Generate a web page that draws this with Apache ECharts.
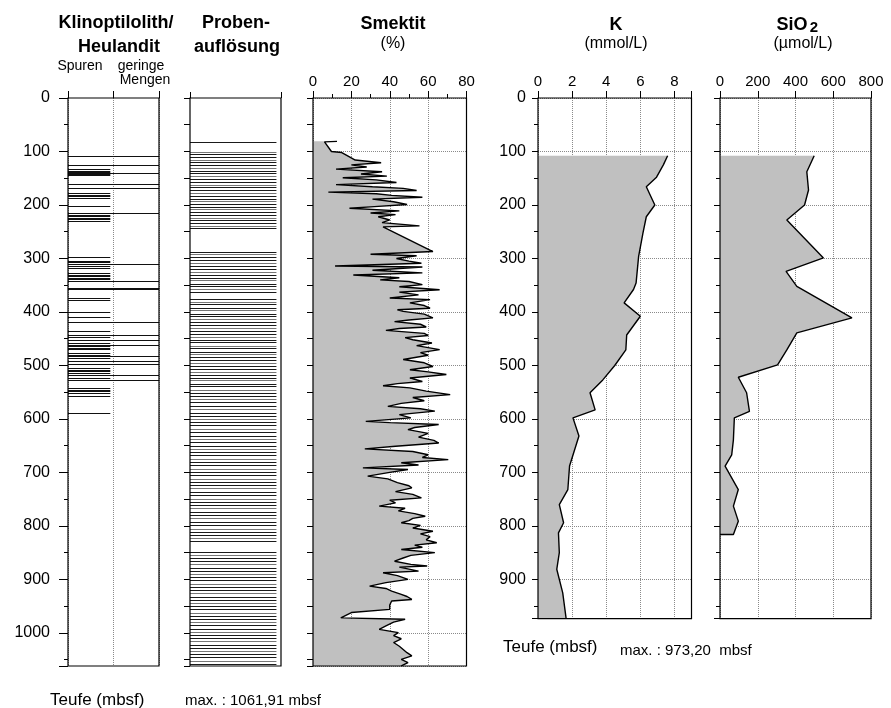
<!DOCTYPE html>
<html><head><meta charset="utf-8">
<script src="https://cdn.jsdelivr.net/npm/echarts@6/dist/echarts.min.js"></script>
<style>html,body{margin:0;padding:0;background:#fff}#c{width:891px;height:708px}</style>
</head><body><div id="c"></div>
<script>
// ---------------- data ----------------
const maxDepthSed = 1061.91;   // mbsf, sediment panels
const maxDepthPw = 973.20;     // mbsf, pore-water panels

const smektitTicks = [0, 20, 40, 60, 80];
const kTicks = [0, 2, 4, 6, 8];
const sio2Ticks = [0, 200, 400, 600, 800];

// Klinoptilolith/Heulandit: depths with "Spuren" (traces) and "geringe Mengen" (small amounts)
const klinoSpuren = [133,136,139,142,144,178,181,184,187,201,218,221,224,227,230,297,304,307,314,318,327,330,333,336,339,374,378,400,410,436,447,458,461,464,467,470,477,480,486,505,508,511,514,524,542,545,548,552,558,588];
const klinoGeringe = [108,125,141,161,168,215,311,342,355,358,419,444,452,461,483,492,497,518,528];

// Probenauflösung: sample depths
const probenDepth = [82,101,105,110,115,120,126,131,136,141,146,151,157,162,167,172,177,183,188,193,198,203,208,214,219,224,229,234,239,243,
 287,292,297,303,308,314,319,325,330,336,341,347,352,358,363,376,381,386,392,397,403,408,413,419,424,430,435,441,446,452,457,463,468,474,479,485,490,495,501,506,512,517,523,528,534,539,545,551,557,563,569,575,581,588,594,600,606,612,619,625,631,637,643,650,656,662,668,674,681,687,693,699,705,712,718,724,730,736,743,749,755,761,767,774,780,786,792,798,805,811,817,823,828,
 849,854,860,866,872,878,884,890,896,902,908,914,920,926,932,938,944,950,956,962,968,974,980,986,992,998,1004,1010,1016,1022,1028,1034,1040,1046,1052,1058];

// Smektit (%)
const smektitDepth = [81,82,100,102,110,116,121,125,129,133,138,142,146,149,153,158,162,166,169,173,176,179,182,185.5,189,194,199,203,206,211,215,218,222,228,233,239,241,287,292,295,300,305,309,314,316,322,327,331,336,340,343,349,353,358.5,363,368,374,377,383,388,393,396,399,404,411,415,418,423,428,431,434.5,440,444,448,452,458,463,470.5,476,481,489,495,502,508,512,517,523.5,527,530,534,538,542,548,554.5,560,566,571,576.5,581,585.5,592,598,604.5,607,610.5,616,620,627,634,640,645,651,656,661,667,672,676,682,686,691.5,694.5,700,707,712,719,725,729,736,741,747.5,752,757,763,767,772,777,782,786,790,794,799,804,810,815,820,826,831.5,836,840,844,850,855,860,866,872,875,877,884.5,887.5,893,900,906,912.5,917,922,928,932,937.5,940.5,948,956,962,972,973.5,974.5,980,987,993.5,999.5,1005,1011,1018,1025,1031,1037,1043,1049.5,1055.5,1061.9];
const smektitValue = [12.5,6,9.6,15,19,22,35.5,20,28,12,36,25,38.5,15.5,33,43.5,12,31,47,54,8,33,41,57,31,42,49,32,19,45,30,43,34,40,36,55.5,36.5,62.5,30,54,43.5,50,56.5,11.5,57,31,57,21,45,35,50,57,45,66,45,55,40,61,50.5,58,61,44,47,58,62.5,50,42.5,56,59,45,38,58,60,48,52,62,54,66,56,60,47,58,62.5,50.5,60,69.5,50.5,51.5,57,44,36.5,50.5,59,71.5,52,58,46,39,56,63.5,45,51,27.5,40,65.5,53,49.5,60,55,63,65.5,43,27,52,60,57,70.5,46,55,26,49.5,40,28.5,39,44,50,51.5,43,52,56.5,40,43,34.5,48,44.5,53,58.5,52,50,46,56,52,62.5,56,61,59,64.5,53,57,46,63.5,51,47,42.5,51,59.5,45,55,36.5,44,49.5,38,29.5,38,41,46,49,51.5,41,40,40,20,14.5,14.5,48,42,38,34.5,44.5,42,46,42,45,47,49,51.5,46,49.5,46];

// K (mmol/L)
const kDepth = [108,125,148,166,200,222,253,296,346,358,383,408,443,471,500,527,551,583,598,632,688,732,760,794,813,850,881,925,973.2];
const kValue = [7.6,7.35,6.95,6.35,6.85,6.35,6.15,5.9,5.75,5.6,5.05,6.0,5.2,5.15,4.5,3.8,3.05,3.35,2.05,2.4,1.85,1.75,1.25,1.5,1.2,1.25,1.1,1.45,1.65];

// SiO2 (µmol/L)
const sio2Depth = [108,138,172,200,228,299,324,352,411,439,471,499,522,551,586,598,639,667,688,732,763,791,816];
const sio2Value = [499,460,469,448,354,548,350,407,699,407,354,305,97,141,156,76,71,62,27,97,71,97,71];

// ---------------- chart ----------------
const FONT = '"Liberation Sans", Arial, Helvetica, sans-serif';
const FILL = '#c0c0c0';
const chart = echarts.init(document.getElementById('c'), null, {renderer: 'canvas'});

const gridBase = {show: true, borderColor: '#000', borderWidth: 1.2, backgroundColor: 'transparent', z: 10};
const dotted = {show: true, lineStyle: {type: 'dotted', color: '#8a8a8a', width: 1}};
const tickStyle = {color: '#000', width: 1};

function topAxis(grid, max, interval, showLabels, split) {
  return {
    type: 'value', gridIndex: grid, position: 'top', min: 0, max: max, interval: interval,
    axisLine: {show: false},
    axisTick: {show: true, length: 7, inside: false, lineStyle: tickStyle},
    axisLabel: {show: showLabels, margin: 9, fontSize: 15, color: '#000', fontFamily: FONT,
      formatter: v => (Math.abs(v % interval) < 1e-9 && v <= max) ? String(v) : ''},
    splitLine: split ? dotted : {show: false}
  };
}
function depthAxis(grid, max, interval, tickLen, showLabels, split, margin) {
  return {
    type: 'value', gridIndex: grid, inverse: true, min: 0, max: max, interval: interval, position: 'left',
    axisLine: {show: false},
    axisTick: {show: true, length: tickLen, lineStyle: tickStyle},
    axisLabel: {show: showLabels, margin: margin || 10, fontSize: 16, color: '#000', fontFamily: FONT,
      formatter: v => (v % 100 === 0) ? String(v) : ''},
    splitLine: split ? dotted : {show: false}
  };
}

const xAxis = [
  Object.assign(topAxis(0, 2, 1, false, true), {axisTick: {show: true, length: 7, lineStyle: tickStyle}}),
  Object.assign(topAxis(1, 1, 1, false, false), {axisTick: {show: true, length: 6, lineStyle: tickStyle}}),
  Object.assign(topAxis(2, smektitTicks[smektitTicks.length - 1], 20, true, true), {minorTick: {show: true, splitNumber: 2, length: 4, lineStyle: tickStyle}}),
  topAxis(3, 9, 2, true, true),
  topAxis(4, sio2Ticks[sio2Ticks.length - 1], 200, true, true)
];
const yAxis = [
  depthAxis(0, maxDepthSed, 100, 9, true, false, 18),   // 0
  depthAxis(0, maxDepthSed, 50, 4, false, false),        // 1
  depthAxis(1, maxDepthSed, 50, 6, false, false),        // 2
  depthAxis(2, maxDepthSed, 100, 6, false, true),        // 3
  depthAxis(2, maxDepthSed, 50, 6, false, false),        // 4
  depthAxis(3, maxDepthPw, 100, 6, true, true, 12),      // 5
  depthAxis(3, maxDepthPw, 50, 4, false, false),         // 6
  depthAxis(4, maxDepthPw, 100, 6, false, true),         // 7
  depthAxis(4, maxDepthPw, 50, 4, false, false)          // 8
];

function hLines(xi, yi, data, width, varied) {
  return {
    type: 'custom', xAxisIndex: xi, yAxisIndex: yi, silent: true, z: 3,
    data: data,
    renderItem: function (params, api) {
      const e = api.value(0), d = api.value(1);
      const p0 = api.coord([0, d]), p1 = api.coord([e, d]);
      const y = Math.round(p0[1]) + 0.5;
      const col = varied ? (params.dataIndex % 3 === 1 ? '#777' : '#1a1a1a') : '#111';
      return {type: 'line', shape: {x1: p0[0], y1: y, x2: p1[0], y2: y},
        style: {stroke: col, lineWidth: width}};
    }
  };
}
function areaFill(xi, yi, depth, value) {
  return {
    type: 'custom', xAxisIndex: xi, yAxisIndex: yi, silent: true, z: 2,
    data: [[0, depth[0]]],
    renderItem: function (params, api) {
      const pts = [api.coord([0, depth[0]])];
      for (let i = 0; i < depth.length; i++) pts.push(api.coord([value[i], depth[i]]));
      pts.push(api.coord([0, depth[depth.length - 1]]));
      return {type: 'polygon', shape: {points: pts}, style: {fill: FILL, stroke: null}};
    }
  };
}
function curve(xi, yi, depth, value, closeToAxis) {
  const data = depth.map((d, i) => [value[i], d]);
  if (closeToAxis) data.push([0, depth[depth.length - 1]]);
  return {
    type: 'line', xAxisIndex: xi, yAxisIndex: yi, data: data, symbol: 'none', silent: true, z: 4,
    lineStyle: {color: '#000', width: 1.4}, animation: false
  };
}

const klinoData = klinoSpuren.map(d => [0.93, d]).concat(klinoGeringe.map(d => [2, d]));
const probenData = probenDepth.map(d => [0.95, d]);

function txt(t, x, y, size, bold, align) {
  return {type: 'text', x: x, y: y, silent: true, z: 20,
    style: {text: t, fill: '#000', font: (bold ? 'bold ' : '') + size + 'px ' + FONT,
      align: align || 'center', textAlign: align || 'center', verticalAlign: 'middle', textVerticalAlign: 'middle'}};
}

const option = {
  animation: false,
  backgroundColor: '#fff',
  grid: [
    Object.assign({left: 68, top: 98, width: 91, height: 568}, gridBase),
    Object.assign({left: 190, top: 98, width: 91, height: 568}, gridBase),
    Object.assign({left: 313, top: 98, width: 153.5, height: 568}, gridBase),
    Object.assign({left: 538, top: 98, width: 153.5, height: 520.6}, gridBase),
    Object.assign({left: 720, top: 98, width: 151, height: 520.6}, gridBase)
  ],
  xAxis: xAxis,
  yAxis: yAxis,
  series: [
    hLines(0, 0, klinoData, 1, false),
    hLines(1, 2, probenData, 1, true),
    areaFill(2, 3, smektitDepth, smektitValue),
    curve(2, 3, smektitDepth, smektitValue, false),
    areaFill(3, 5, kDepth, kValue),
    curve(3, 5, kDepth, kValue, false),
    areaFill(4, 7, sio2Depth, sio2Value),
    curve(4, 7, sio2Depth, sio2Value, true)
  ],
  graphic: [
    txt('Klinoptilolith/', 116, 23, 18, true),
    txt('Heulandit', 119, 47, 18, true),
    txt('Spuren', 80, 66, 14, false),
    txt('geringe', 141, 66, 14, false),
    txt('Mengen', 145, 80, 14, false),
    txt('Proben-', 236, 23, 18, true),
    txt('auflösung', 237, 47, 18, true),
    txt('Smektit', 393, 24, 18, true),
    txt('(%)', 393, 44, 16, false),
    txt('K', 616, 25, 18, true),
    txt('(mmol/L)', 616, 44, 16, false),
    txt('SiO', 792, 25, 18, true),
    txt('2', 814, 28, 15, true),
    txt('(µmol/L)', 803, 44, 16, false),
    txt('Teufe (mbsf)', 50, 700, 17, false, 'left'),
    txt('max. : 1061,91 mbsf', 185, 701, 15, false, 'left'),
    txt('Teufe (mbsf)', 503, 647, 17, false, 'left'),
    txt('max. : 973,20  mbsf', 620, 651, 15, false, 'left')
  ]
};
chart.setOption(option);
</script>
</body></html>
